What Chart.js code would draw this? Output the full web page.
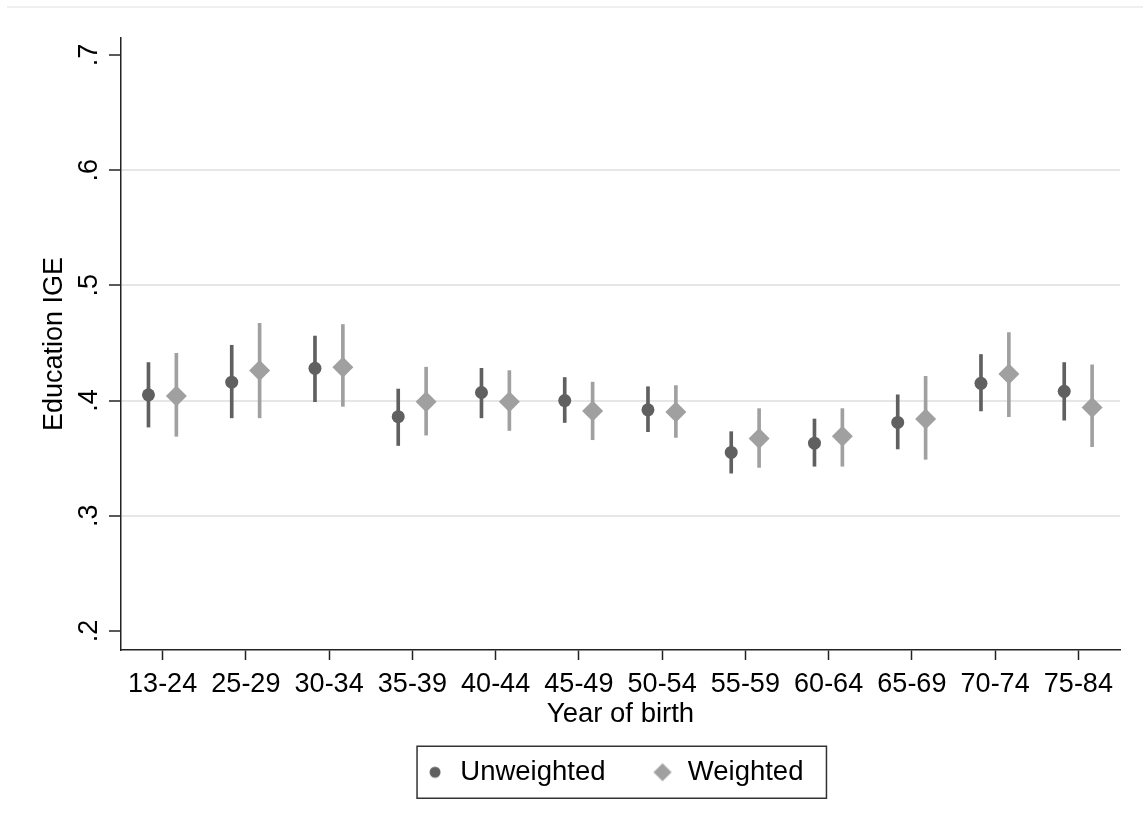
<!DOCTYPE html>
<html>
<head>
<meta charset="utf-8">
<script src="https://cdn.jsdelivr.net/npm/chart.js@4.4.1/dist/chart.umd.min.js"></script>
<style>
  html, body { margin: 0; padding: 0; background: #fff; overflow: hidden; }
  #wrap { position: relative; width: 1143px; height: 831px; }
  #topline { position: absolute; left: 7px; right: 0; top: 6px; border-top: 2px solid #efefef; }
  canvas { position: absolute; left: 0; top: 0; }
</style>
</head>
<body>
<div id="wrap">
  <div id="topline"></div>
  <canvas id="myChart" width="1143" height="831"></canvas>
</div>
<script>
// cohorts (year of birth)
var cohorts = ['13-24', '25-29', '30-34', '35-39', '40-44', '45-49', '50-54', '55-59', '60-64', '65-69', '70-74', '75-84'];

// unweighted estimates + 95% CI
var unwEst  = [0.405, 0.416, 0.428, 0.386, 0.407, 0.400, 0.392, 0.355, 0.363, 0.381, 0.415, 0.408];
var unwLow  = [0.377, 0.385, 0.399, 0.361, 0.385, 0.381, 0.373, 0.337, 0.343, 0.358, 0.391, 0.383];
var unwHigh = [0.433, 0.448, 0.456, 0.410, 0.428, 0.420, 0.412, 0.373, 0.384, 0.405, 0.440, 0.433];

// weighted estimates + 95% CI
var wEst  = [0.404, 0.426, 0.429, 0.399, 0.399, 0.391, 0.390, 0.367, 0.369, 0.384, 0.423, 0.394];
var wLow  = [0.369, 0.385, 0.395, 0.370, 0.374, 0.366, 0.368, 0.342, 0.343, 0.349, 0.386, 0.360];
var wHigh = [0.441, 0.467, 0.466, 0.429, 0.426, 0.416, 0.413, 0.393, 0.393, 0.421, 0.459, 0.431];

var yTicks = [0.2, 0.3, 0.4, 0.5, 0.6, 0.7];

var darkGrey = '#606060';
var lightGrey = '#a0a0a0';
var unwShift = -0.17;
var wShift = 0.165;
var legendShift = -7;

Chart.defaults.font.family = "'Liberation Sans', Arial, sans-serif";
Chart.defaults.color = '#000';

function pts(est, shift) {
    return est.map(function (v, i) { return { x: i + shift, y: v }; });
}
function ci(lo, hi, shift) {
    return lo.map(function (v, i) { return { x: i + shift, y: [v, hi[i]] }; });
}

// little legend markers
function legendCircle() {
    var c = document.createElement('canvas');
    c.width = 14; c.height = 14;
    var g = c.getContext('2d');
    g.fillStyle = darkGrey;
    g.beginPath(); g.arc(7, 7, 5.5, 0, Math.PI * 2); g.fill();
    return c;
}
function legendDiamond() {
    var c = document.createElement('canvas');
    c.width = 20; c.height = 20;
    var g = c.getContext('2d');
    g.fillStyle = lightGrey;
    g.beginPath(); g.moveTo(1, 10); g.lineTo(10, 1); g.lineTo(19, 10); g.lineTo(10, 19); g.closePath(); g.fill();
    return c;
}
var circleImg = legendCircle();
var diamondImg = legendDiamond();

var legendFrame = {
    id: 'legendFrame',
    afterLayout: function (chart) {
        chart.legend.left += legendShift;
        chart.legend.right += legendShift;
    },
    afterDraw: function (chart) {
        var hb = chart.legend.legendHitBoxes;
        if (!hb || hb.length < 2) return;
        var ctx = chart.ctx;
        var cy = hb[0].top + hb[0].height / 2;
        var left = hb[0].left - 6.5;
        var right = hb[1].left + hb[1].width + 23;
        ctx.save();
        ctx.strokeStyle = '#333';
        ctx.lineWidth = 1.5;
        ctx.strokeRect(left, cy - 26, right - left, 52);
        ctx.restore();
    }
};

var myChart = new Chart(document.getElementById('myChart'), {
    type: 'scatter',
    data: {
        datasets: [
            {
                label: 'Unweighted',
                data: pts(unwEst, unwShift),
                pointStyle: 'circle',
                pointRadius: 6.5,
                backgroundColor: darkGrey,
                borderWidth: 0,
                order: 0
            },
            {
                label: 'Weighted',
                data: pts(wEst, wShift),
                pointStyle: 'rectRot',
                pointRadius: 10.5,
                backgroundColor: lightGrey,
                borderWidth: 0,
                order: 0
            },
            {
                type: 'bar',
                label: 'Unweighted CI',
                data: ci(unwLow, unwHigh, unwShift),
                backgroundColor: darkGrey,
                barThickness: 3,
                grouped: false,
                order: 1
            },
            {
                type: 'bar',
                label: 'Weighted CI',
                data: ci(wLow, wHigh, wShift),
                backgroundColor: lightGrey,
                barThickness: 3,
                grouped: false,
                order: 1
            }
        ]
    },
    options: {
        responsive: false,
        animation: false,
        events: [],
        layout: { padding: { top: 38, left: 0, right: 23, bottom: 35 } },
        scales: {
            x: {
                type: 'linear',
                min: -0.5,
                max: 11.5,
                offset: false,
                afterBuildTicks: function (scale) {
                    scale.ticks = cohorts.map(function (c, i) { return { value: i }; });
                },
                ticks: {
                    font: { size: 27, lineHeight: 1 },
                    padding: 11.5,
                    maxRotation: 0,
                    callback: function (v) { return cohorts[Math.round(v)]; }
                },
                grid: {
                    offset: false,
                    drawOnChartArea: false,
                    tickLength: 10,
                    tickColor: '#222',
                    tickWidth: 1.5
                },
                border: { color: '#222', width: 1.5 },
                title: {
                    display: true,
                    text: 'Year of birth',
                    font: { size: 27.5 },
                    padding: { top: -12, bottom: -18 }
                }
            },
            y: {
                type: 'linear',
                min: 0.1835,
                max: 0.7147,
                afterBuildTicks: function (scale) {
                    scale.ticks = yTicks.map(function (v) { return { value: v }; });
                },
                afterFit: function (scale) { scale.width = 121; },
                ticks: {
                    font: { size: 27 },
                    minRotation: 90,
                    maxRotation: 90,
                    crossAlign: 'center',
                    padding: 8,
                    callback: function (v) { return v.toFixed(1).replace(/^0/, ''); }
                },
                grid: {
                    color: function (c) {
                        if (c.tick && (Math.abs(c.tick.value - 0.2) < 1e-6 || Math.abs(c.tick.value - 0.7) < 1e-6)) return 'rgba(0,0,0,0)';
                        return '#e6e6e6';
                    },
                    lineWidth: 2,
                    tickLength: 12,
                    tickColor: '#222',
                    tickWidth: 1.5
                },
                border: { color: '#222', width: 1.5 },
                title: {
                    display: true,
                    text: 'Education IGE',
                    font: { size: 27 },
                    padding: { top: 38, bottom: 0 }
                }
            }
        },
        plugins: {
            tooltip: { enabled: false },
            legend: {
                position: 'bottom',
                fullSize: false,
                labels: {
                    font: { size: 27.5 },
                    color: '#000',
                    usePointStyle: true,
                    boxWidth: 23,
                    padding: 45.5,
                    generateLabels: function () {
                        return [
                            { text: 'Unweighted', pointStyle: circleImg, fillStyle: darkGrey, strokeStyle: darkGrey, lineWidth: 0, hidden: false, datasetIndex: 0 },
                            { text: 'Weighted', pointStyle: diamondImg, fillStyle: lightGrey, strokeStyle: lightGrey, lineWidth: 0, hidden: false, datasetIndex: 1 }
                        ];
                    }
                }
            }
        }
    },
    plugins: [legendFrame]
});
</script>
</body>
</html>
